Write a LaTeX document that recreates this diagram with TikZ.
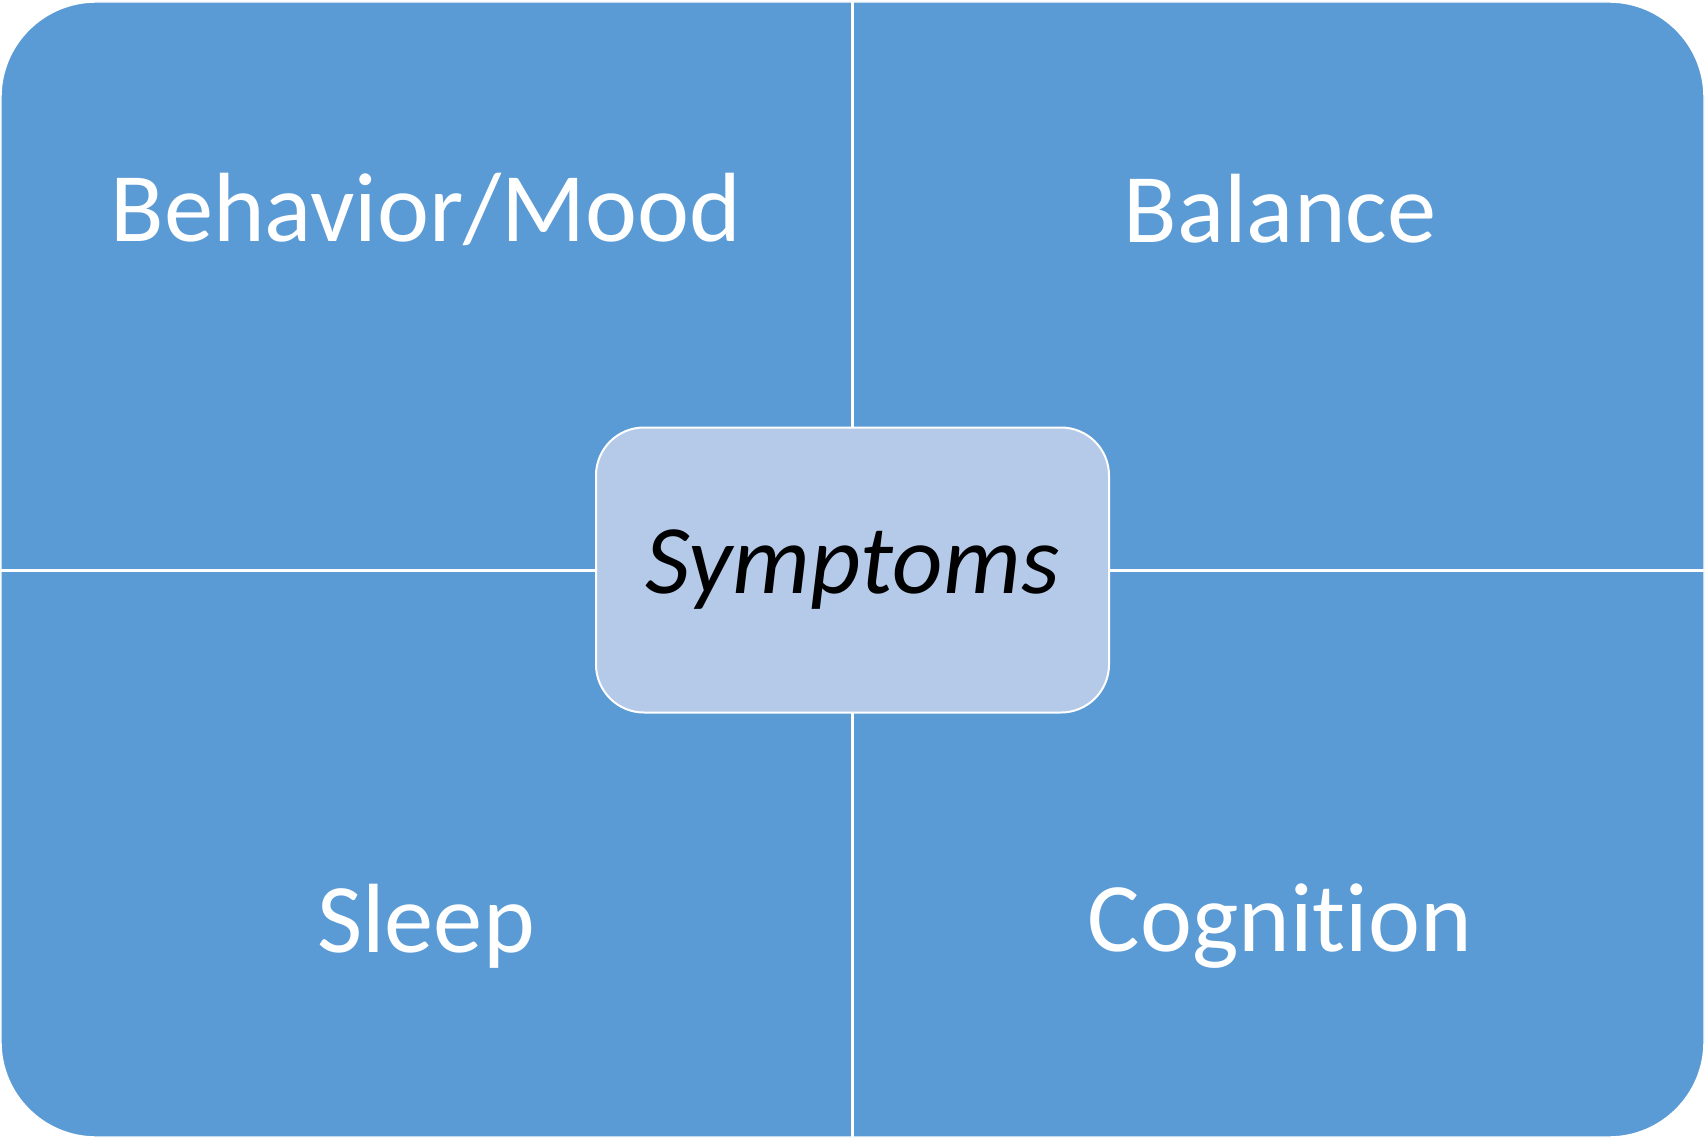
\documentclass[tikz,border=0pt]{standalone}
\usepackage{fontspec}
\setmainfont[Ligatures=NoCommon]{Carlito}
\usepackage{xcolor}
\usepackage{tikz}
\usetikzlibrary{calc}

\definecolor{quadblue}{HTML}{5B9BD5}
\definecolor{centreblue}{HTML}{B5CAE8}

\begin{document}
\begin{tikzpicture}
        \useasboundingbox (0,0) rectangle (17.05,11.39);

        % Parameters
        \def\midX{8.525}      % vertical split
        \def\midY{5.69}       % horizontal split
        \def\outerRadius{0.95cm}

        % Background of the four quadrants
        \fill[quadblue, draw=white, line width=0.4pt, rounded corners=\outerRadius]
                (0.01,0.02) rectangle (17.04,11.37);

        % White split lines
        \draw[white, line width=0.03cm] (\midX,0.02) -- (\midX,11.37);
        \draw[white, line width=0.03cm] (0.01,\midY) -- (17.04,\midY);

        % Quadrant labels
        \tikzset{quadlabel/.style={text=white, font=\fontsize{28}{33}\selectfont}}

        \node[quadlabel] (behavior) at (4.26, 9.30) {Behavior/Mood};
        \node[quadlabel] (balance) at (12.80, 9.30) {Balance};
        \node[quadlabel] (sleep) at (4.26, 2.13) {Sleep};
        \node[quadlabel] (cognition) at (12.80, 2.13) {Cognition};

        % Centre box
        \node[  fill=centreblue,
                draw=white,
                line width=0.02cm,
                rounded corners=0.48cm,
                minimum width=5.13cm,
                minimum height=2.85cm,
                font=\fontsize{28}{33}\itshape\selectfont] (symptoms) at (\midX, \midY) {Symptoms};

\end{tikzpicture}
\end{document}
